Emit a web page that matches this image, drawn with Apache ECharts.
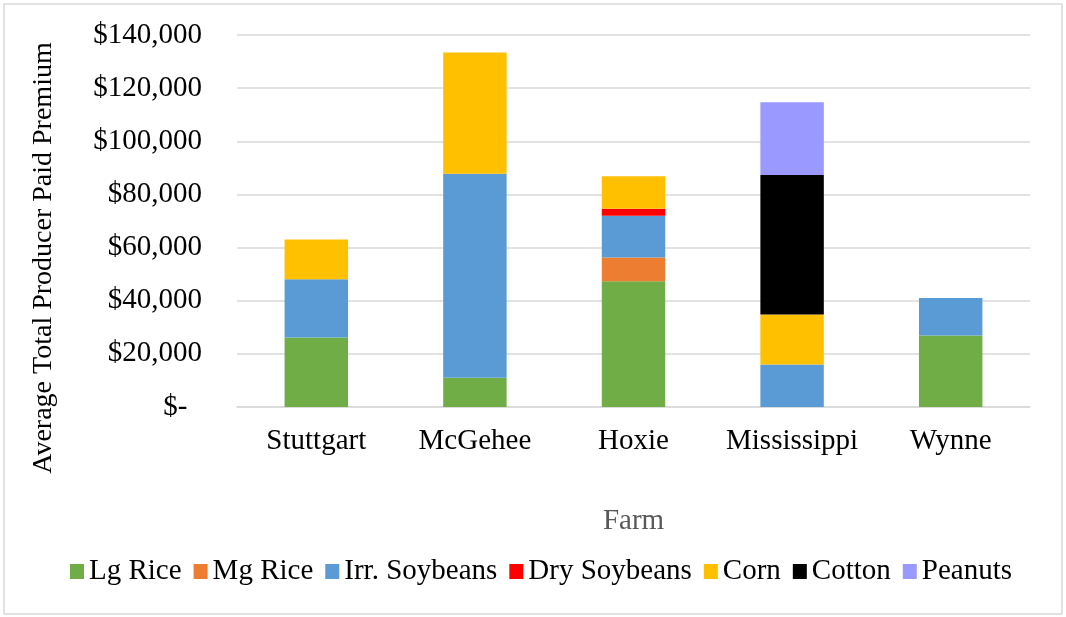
<!DOCTYPE html>
<html>
<head>
<meta charset="utf-8">
<script src="https://cdn.jsdelivr.net/npm/echarts@6/dist/echarts.min.js"></script>
<style>html,body{margin:0;padding:0;background:#fff;}#c{width:1066px;height:617px;}</style>
</head>
<body>
<div id="c"></div>
<script>
const categories = ['Stuttgart', 'McGehee', 'Hoxie', 'Mississippi', 'Wynne'];
const lgRice      = [26200, 11000, 47300, 0, 26900];
const mgRice      = [0, 0, 9000, 0, 0];
const irrSoybeans = [21900, 76800, 15700, 16000, 14100];
const drySoybeans = [0, 0, 2600, 0, 0];
const corn        = [14900, 45600, 12200, 18800, 0];
const cotton      = [0, 0, 0, 52500, 0];
const peanuts     = [0, 0, 0, 27400, 0];
const yTicks = [0, 20000, 40000, 60000, 80000, 100000, 120000, 140000];

const seriesDefs = [
  ['Lg Rice', lgRice, '#70AD47'],
  ['Mg Rice', mgRice, '#ED7D31'],
  ['Irr. Soybeans', irrSoybeans, '#5B9BD5'],
  ['Dry Soybeans', drySoybeans, '#FF0000'],
  ['Corn', corn, '#FFC000'],
  ['Cotton', cotton, '#000000'],
  ['Peanuts', peanuts, '#9999FF']
];
const FONT = '"Liberation Serif", "Times New Roman", serif';
const FS = 29;

const chart = echarts.init(document.getElementById('c'), null, {renderer: 'canvas'});
chart.setOption({
  animation: false,
  backgroundColor: '#fff',
  textStyle: {fontFamily: FONT},
  grid: {left: 237, right: 36, top: 35, bottom: 210},
  legend: {
    top: 552, left: 65,
    itemWidth: 14, itemHeight: 15, itemGap: 12,
    icon: 'rect',
    textStyle: {fontFamily: FONT, fontSize: FS, color: '#000'},
    data: seriesDefs.map(s => s[0])
  },
  xAxis: {
    type: 'category',
    data: categories,
    name: 'Farm',
    nameLocation: 'middle',
    nameGap: 100,
    nameTextStyle: {fontFamily: FONT, fontSize: FS, color: '#595959'},
    axisLine: {lineStyle: {color: '#d9d9d9', width: 1.5}},
    axisTick: {show: false},
    axisLabel: {fontFamily: FONT, fontSize: FS, color: '#000', margin: 20, interval: 0}
  },
  yAxis: {
    type: 'value',
    min: yTicks[0], max: yTicks[yTicks.length - 1], interval: 20000,
    axisLine: {show: false},
    axisTick: {show: false},
    splitLine: {lineStyle: {color: '#d9d9d9', width: 1.5}},
    axisLabel: {
      fontFamily: FONT, fontSize: FS, color: '#000', margin: 35,
      formatter: v => v === 0 ? '$-  ' : '$' + v.toLocaleString('en-US')
    }
  },
  series: seriesDefs.map(s => ({
    name: s[0], type: 'bar', stack: 'total', barWidth: '40%',
    itemStyle: {color: s[2]},
    data: s[1].map(v => v === 0 ? null : v)
  })),
  graphic: [
    {type: 'rect', shape: {x: 4, y: 4, width: 1058, height: 610}, style: {fill: null, stroke: '#d9d9d9', lineWidth: 1.5}, silent: true},
    {type: 'text', x: 44, y: 258, rotation: Math.PI / 2,
     style: {text: 'Average Total Producer Paid Premium', fill: '#000', font: '28px ' + FONT, textAlign: 'center', textVerticalAlign: 'middle'}}
  ]
});
</script>
</body>
</html>
